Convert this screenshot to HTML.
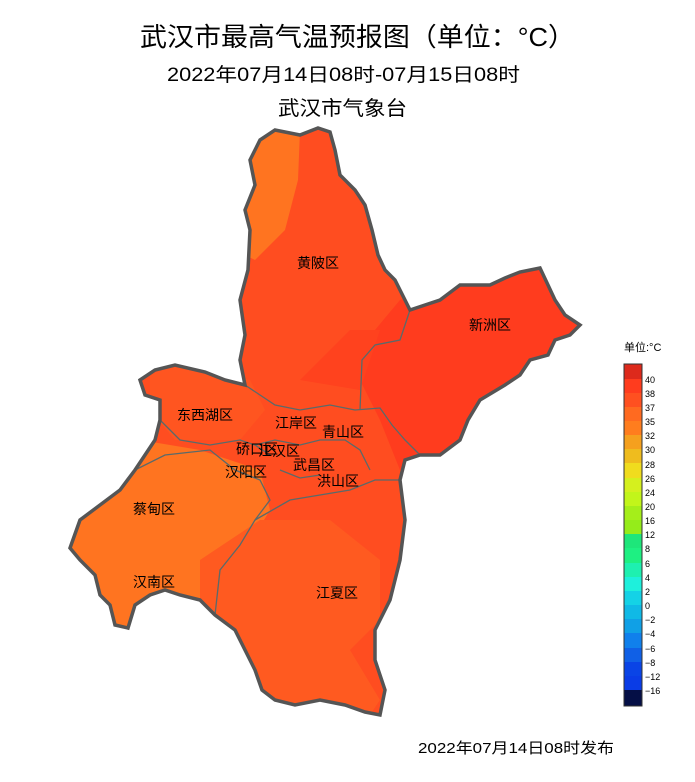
<!DOCTYPE html>
<html><head><meta charset="utf-8"><style>
body{margin:0;background:#fff;width:695px;height:777px;overflow:hidden;font-family:"Liberation Sans","Noto Sans CJK SC",sans-serif}
</style></head><body>
<svg width="695" height="777" viewBox="0 0 695 777" xmlns="http://www.w3.org/2000/svg" font-family="Liberation Sans, Noto Sans CJK SC, sans-serif">
<rect width="695" height="777" fill="#fff"/>
<text x="140" y="46" font-size="26" textLength="435" lengthAdjust="spacingAndGlyphs">武汉市最高气温预报图（单位：°C）</text>
<text x="167" y="81" font-size="19" textLength="353" lengthAdjust="spacingAndGlyphs">2022年07月14日08时-07月15日08时</text>
<text x="278" y="115" font-size="20" textLength="129" lengthAdjust="spacingAndGlyphs">武汉市气象台</text>
<defs><clipPath id="c"><path id="o" d="M250,160 L260,140 L275,130 L300,135 L318,128 L330,132 L335,150 L340,175 L355,190 L365,205 L372,230 L378,255 L385,270 L395,280 L405,300 L410,310 L425,305 L440,300 L460,285 L490,285 L505,278 L520,272 L540,268 L548,285 L555,300 L565,315 L580,325 L570,335 L555,340 L548,355 L530,360 L520,375 L505,385 L480,400 L468,420 L460,440 L440,455 L420,455 L405,460 L400,480 L405,520 L400,560 L390,600 L375,630 L375,660 L385,690 L380,715 L365,712 L345,705 L320,700 L295,705 L275,700 L262,690 L255,670 L245,650 L235,630 L215,615 L200,600 L180,595 L165,590 L150,595 L135,605 L128,628 L115,625 L110,605 L100,595 L95,575 L80,560 L70,548 L80,520 L100,505 L120,490 L135,470 L145,455 L155,440 L160,420 L160,400 L145,395 L140,380 L155,370 L175,365 L205,372 L225,380 L245,385 L240,360 L245,335 L240,300 L248,270 L250,230 L245,210 L255,185 Z"/></clipPath></defs>
<g clip-path="url(#c)">
<rect x="60" y="120" width="540" height="610" fill="#ff4d20"/>
<path d="M240,130 L300,130 L298,180 L285,230 L255,260 L235,250 Z" fill="#ff7420"/>
<path d="M350,360 L400,300 L600,250 L600,380 L470,450 L400,470 L380,420 Z" fill="#ff3c1e"/>
<path d="M60,460 L140,440 L200,450 L260,470 L270,510 L240,560 L215,620 L60,640 Z" fill="#ff7420"/>
<path d="M150,360 L250,380 L265,410 L240,440 L175,440 L150,410 Z" fill="#ff5520"/>
<path d="M200,560 L260,520 L330,520 L380,560 L380,620 L350,650 L380,700 L360,730 L230,730 L200,650 Z" fill="#ff5a20"/>
<path d="M300,380 L350,330 L380,330 L360,390 Z" fill="#ff421e"/>
</g>
<g fill="none" stroke="#5a6a6a" stroke-width="1.3">
<path d="M245,385 L260,395 L275,405 L300,410 L330,405 L355,410 L380,408 L392,425 L405,440 L420,455"/>
<path d="M360,410 L362,360 L375,345 L400,340 L410,310"/>
<path d="M160,420 L180,440 L210,445 L240,440 L255,445 L270,455"/>
<path d="M135,470 L165,455 L210,450 L235,470 L260,480 L270,500 L255,520 L240,545 L220,570 L215,615"/>
<path d="M255,520 L290,500 L320,495 L350,490 L375,480 L400,480"/>
<path d="M255,445 L275,440 L300,445 L320,440 L345,440 L360,450 L370,470"/>
<path d="M280,470 L300,478 L320,475"/>
</g>
<use href="#o" fill="none" stroke="#555" stroke-width="3.5"/>
<g font-size="14" fill="#000">
<text x="297" y="268">黄陂区</text>
<text x="469" y="330">新洲区</text>
<text x="177" y="420">东西湖区</text>
<text x="275" y="428">江岸区</text>
<text x="322" y="437">青山区</text>
<text x="236" y="454">硚口区</text>
<text x="258" y="456">江汉区</text>
<text x="225" y="477">汉阳区</text>
<text x="293" y="470">武昌区</text>
<text x="317" y="486">洪山区</text>
<text x="133" y="514">蔡甸区</text>
<text x="133" y="587">汉南区</text>
<text x="316" y="598">江夏区</text>
</g>
<text x="624" y="351" font-size="11">单位:°C</text>
<g stroke="none">
<rect x="624" y="364" width="18" height="15" fill="#dd2a1c"/>
<rect x="624" y="379" width="18" height="14" fill="#ff3c1e"/>
<rect x="624" y="393" width="18" height="14" fill="#ff5020"/>
<rect x="624" y="407" width="18" height="14" fill="#ff6a20"/>
<rect x="624" y="421" width="18" height="14" fill="#ff7d1e"/>
<rect x="624" y="435" width="18" height="14" fill="#f5a01e"/>
<rect x="624" y="449" width="18" height="14" fill="#efbc1e"/>
<rect x="624" y="463" width="18" height="15" fill="#f0dc1e"/>
<rect x="624" y="478" width="18" height="14" fill="#d5f01e"/>
<rect x="624" y="492" width="18" height="14" fill="#c2f51a"/>
<rect x="624" y="506" width="18" height="14" fill="#a5ee1a"/>
<rect x="624" y="520" width="18" height="14" fill="#95ec1a"/>
<rect x="624" y="534" width="18" height="14" fill="#1ee67a"/>
<rect x="624" y="548" width="18" height="15" fill="#1ef082"/>
<rect x="624" y="563" width="18" height="14" fill="#1ef0b0"/>
<rect x="624" y="577" width="18" height="14" fill="#1ef0dc"/>
<rect x="624" y="591" width="18" height="14" fill="#14d2e6"/>
<rect x="624" y="605" width="18" height="14" fill="#10b9e6"/>
<rect x="624" y="619" width="18" height="14" fill="#10a0e6"/>
<rect x="624" y="633" width="18" height="15" fill="#1080ec"/>
<rect x="624" y="648" width="18" height="14" fill="#1060e6"/>
<rect x="624" y="662" width="18" height="14" fill="#0a44e6"/>
<rect x="624" y="676" width="18" height="14" fill="#0a3ce6"/>
<rect x="624" y="690" width="18" height="16" fill="#050f46"/>
</g>
<rect x="624" y="364" width="18" height="342" fill="none" stroke="#333" stroke-width="1"/>
<g font-size="9" fill="#000">
<text x="645" y="383">40</text><text x="645" y="397">38</text><text x="645" y="411">37</text><text x="645" y="425">35</text><text x="645" y="439">32</text><text x="645" y="453">30</text><text x="645" y="468">28</text><text x="645" y="482">26</text><text x="645" y="496">24</text><text x="645" y="510">20</text><text x="645" y="524">16</text><text x="645" y="538">12</text><text x="645" y="552">8</text><text x="645" y="567">6</text><text x="645" y="581">4</text><text x="645" y="595">2</text><text x="645" y="609">0</text><text x="645" y="623">−2</text><text x="645" y="637">−4</text><text x="645" y="652">−6</text><text x="645" y="666">−8</text><text x="645" y="680">−12</text><text x="645" y="694">−16</text>
</g>
<text x="418" y="753" font-size="15" textLength="196" lengthAdjust="spacingAndGlyphs">2022年07月14日08时发布</text>
</svg>
</body></html>
